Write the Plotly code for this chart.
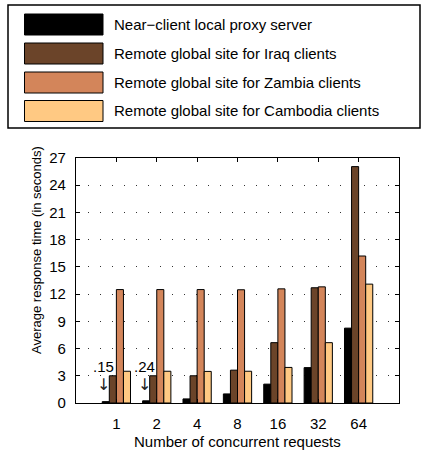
import plotly.graph_objects as go

# ---- data ----
categories = ["1", "2", "4", "8", "16", "32", "64"]
series_names = [
    "Near\u2212client local proxy server",
    "Remote global site for Iraq clients",
    "Remote global site for Zambia clients",
    "Remote global site for Cambodia clients",
]
local_proxy = [0.15, 0.24, 0.45, 1.0, 2.08, 3.9, 8.25]
iraq = [3.0, 3.0, 3.0, 3.62, 6.65, 12.7, 26.05]
zambia = [12.5, 12.5, 12.5, 12.48, 12.58, 12.8, 16.2]
cambodia = [3.5, 3.5, 3.48, 3.5, 3.92, 6.65, 13.1]
y_ticks = [0, 3, 6, 9, 12, 15, 18, 21, 24, 27]
callouts = [(0, ".15"), (1, ".24")]

colors = ["#000000", "#6B4429", "#D3855A", "#FFC983"]
all_series = [local_proxy, iraq, zambia, cambodia]

W, H = 426, 452
L, R, T, B = 76, 27, 158, 49
pw, ph = W - L - R, H - T - B


def px_x(p):
    return (p - L) / pw


def px_y(p):
    return (H - B - p) / ph


xpos = list(range(1, len(categories) + 1))
fig = go.Figure()
for name, vals, col in zip(series_names, all_series, colors):
    fig.add_trace(go.Bar(
        x=xpos, y=vals, name=name,
        marker=dict(color=col, line=dict(color="#000000", width=1)),
        showlegend=False,
    ))

font = "Liberation Sans, Arial, Helvetica, sans-serif"
fig.update_layout(
    width=W, height=H,
    margin=dict(l=L, r=R, t=T, b=B),
    paper_bgcolor="white", plot_bgcolor="white",
    barmode="group", bargap=0.3, bargroupgap=0,
    font=dict(family=font, size=14, color="black"),
    showlegend=False,
)
fig.update_xaxes(
    range=[0, len(categories) + 1], tickmode="array", tickvals=xpos, ticktext=categories,
    ticks="inside", ticklen=4, tickcolor="black", showline=True, linecolor="black",
    linewidth=1.2, mirror="ticks", showgrid=False, zeroline=False,
    tickfont=dict(size=15), ticklabelstandoff=7,
)
fig.update_yaxes(
    range=[0, 27], tickmode="array", tickvals=y_ticks,
    ticks="inside", ticklen=4, tickcolor="black", showline=True, linecolor="black",
    linewidth=1.2, mirror="ticks", showgrid=True, gridcolor="#333333", gridwidth=1,
    griddash="1px,11px", zeroline=False, tickfont=dict(size=15), ticklabelstandoff=6,
)

ann = []
shapes = []
# callouts
for idx, txt in callouts:
    xc = xpos[idx] - 0.2625
    ann.append(dict(x=xc, y=4.0, xref="x", yref="y", text=txt, showarrow=False,
                    font=dict(size=15), xshift=-2))
    ann.append(dict(x=xc, y=2.0, xref="x", yref="y", text="\u2193", showarrow=False,
                    font=dict(size=16, family="DejaVu Sans", color="#222222"), xshift=-2))

# axis titles
ann.append(dict(x=px_x(237), y=px_y(441), xref="paper", yref="paper",
                text="Number of concurrent requests", showarrow=False,
                font=dict(size=15), xanchor="center", yanchor="middle"))
ann.append(dict(x=px_x(36), y=px_y(250), xref="paper", yref="paper",
                text="Average response time (in seconds)", showarrow=False,
                textangle=-90, font=dict(size=13), xanchor="center", yanchor="middle"))

# legend box
shapes.append(dict(type="rect", xref="paper", yref="paper",
                   x0=px_x(8), x1=px_x(420), y0=px_y(128), y1=px_y(5),
                   line=dict(color="black", width=1.5), fillcolor="white", layer="below"))
row_tops = [14, 43, 72, 100.5]
for name, col, top in zip(series_names, colors, row_tops):
    shapes.append(dict(type="rect", xref="paper", yref="paper",
                       x0=px_x(24.5), x1=px_x(103), y0=px_y(top + 21), y1=px_y(top),
                       line=dict(color="black", width=1), fillcolor=col))
    ann.append(dict(x=px_x(112), y=px_y(top + 10.5), xref="paper", yref="paper",
                    text=name, showarrow=False, xanchor="left", yanchor="middle",
                    font=dict(size=15)))

fig.update_layout(annotations=ann, shapes=shapes)
fig.write_html("out.html", config={"displayModeBar": False},
               post_script="document.body.style.margin='0';document.body.style.overflow='hidden';")
